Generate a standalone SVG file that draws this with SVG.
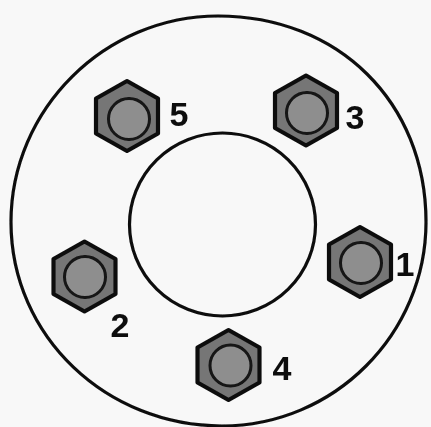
<svg xmlns="http://www.w3.org/2000/svg" width="431" height="427" viewBox="0 0 431 427">
<defs>
<style>
.ring{fill:none;stroke:#0c0c0c;stroke-width:3.2}
.hex{fill:#767676;stroke:#101010;stroke-width:4.2;stroke-linejoin:round}
.washer{fill:#8e8e8e;stroke:#151515;stroke-width:3}
.lbl{font-family:"Liberation Sans",Arial,sans-serif;font-weight:700;font-size:34px;fill:#0c0c0c;text-anchor:middle}
</style>
<filter id="soft" x="-5%" y="-5%" width="110%" height="110%"><feGaussianBlur stdDeviation="0.6"/></filter>
<polygon id="hexagon" class="hex" points="0,-35 31,-17.500 31,17.500 0,35 -31,17.500 -31,-17.500"/>
</defs>
<rect width="431" height="427" fill="#f8f8f8"/>
<g filter="url(#soft)">
<g id="flange"><path class="ring" d="M218,16 C338,16 426,102 426,222 C426,334 334,426 222,426 C107,426 11,337 11,222 C11,109 105,16 218,16 Z"/></g>
<g id="bore"><ellipse class="ring" cx="222.500" cy="224.500" rx="93" ry="91.500"/></g>
<g id="bolt-5"><use href="#hexagon" x="127" y="116"/><circle class="washer" cx="129" cy="119" r="20.500"/><text class="lbl" x="179" y="126">5</text></g>
<g id="bolt-3"><use href="#hexagon" x="306" y="110.500"/><circle class="washer" cx="307" cy="113" r="20.500"/><text class="lbl" x="355" y="129">3</text></g>
<g id="bolt-1"><use href="#hexagon" x="360" y="262"/><circle class="washer" cx="361" cy="263" r="20.500"/><text class="lbl" x="405" y="276">1</text></g>
<g id="bolt-2"><use href="#hexagon" x="84.500" y="276.500"/><circle class="washer" cx="85" cy="277" r="20.500"/><text class="lbl" x="120" y="337">2</text></g>
<g id="bolt-4"><use href="#hexagon" x="228.500" y="365"/><circle class="washer" cx="230.500" cy="365.500" r="20.500"/><text class="lbl" x="282" y="380">4</text></g>
</g>
</svg>
